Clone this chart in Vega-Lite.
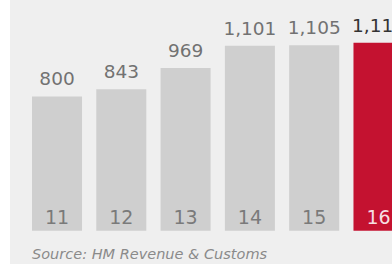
{
  "$schema": "https://vega.github.io/schema/vega-lite/v6.json",
  "width": 382,
  "height": 264,
  "autosize": {"type": "none"},
  "padding": {"left": 10, "top": 0, "right": 0, "bottom": 0},
  "background": "#ffffff",
  "config": {"view": {"fill": "#efefef", "stroke": null}, "font": "DejaVu Sans"},
  "datasets": {
    "bars": [
      {"year": "11", "value": 800},
      {"year": "12", "value": 843},
      {"year": "13", "value": 969},
      {"year": "14", "value": 1101},
      {"year": "15", "value": 1105},
      {"year": "16", "value": 1119}
    ],
    "note": [{"year": "11", "value": -166, "source": "Source: HM Revenue & Customs"}]
  },
  "layer": [
    {"data": {"name": "bars"},
     "mark": {"type": "bar"},
     "encoding": {
       "x": {"field": "year", "type": "nominal", "axis": null, "sort": null,
             "scale": {"range": [22, 393.5], "paddingInner": 0.222, "paddingOuter": 0}},
       "y": {"field": "value", "type": "quantitative", "axis": null,
             "scale": {"domain": [-198, 1374], "nice": false, "zero": false}},
       "y2": {"datum": 0},
       "color": {"condition": {"test": "datum.year === '16'", "value": "#c41230"}, "value": "#cfcfcf"}
     }},
    {"data": {"name": "bars"},
     "mark": {"type": "text", "baseline": "alphabetic", "dy": -11, "fontSize": 18.5},
     "encoding": {
       "x": {"field": "year", "type": "nominal", "sort": null},
       "y": {"field": "value", "type": "quantitative"},
       "text": {"field": "value", "type": "quantitative", "format": ","},
       "color": {"condition": {"test": "datum.year === '16'", "value": "#333333"}, "value": "#727272"},
       "fontWeight": {"condition": {"test": "datum.year === '16'", "value": "bold"}, "value": "normal"}
     }},
    {"data": {"name": "bars"},
     "mark": {"type": "text", "baseline": "alphabetic", "dy": -7, "fontSize": 19},
     "encoding": {
       "x": {"field": "year", "type": "nominal", "sort": null},
       "y": {"datum": 0},
       "text": {"field": "year"},
       "color": {"condition": {"test": "datum.year === '16'", "value": "#f6dfe2"}, "value": "#7a7a7a"}
     }},
    {"data": {"name": "note"},
     "mark": {"type": "text", "align": "left", "baseline": "alphabetic", "dx": -25, "fontSize": 14.5, "fontStyle": "italic", "color": "#8a8a8a"},
     "encoding": {
       "x": {"field": "year", "type": "nominal", "sort": null},
       "y": {"field": "value", "type": "quantitative"},
       "text": {"field": "source"}
     }}
  ]
}
